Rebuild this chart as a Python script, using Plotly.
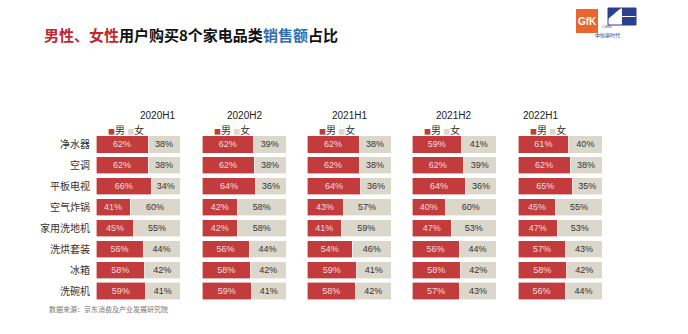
import plotly.graph_objects as go

categories = ["净水器", "空调", "平板电视", "空气炸锅", "家用洗地机", "洗烘套装", "冰箱", "洗碗机"]
periods = ["2020H1", "2020H2", "2021H1", "2021H2", "2022H1"]

male_2020H1 = [62, 62, 66, 41, 45, 56, 58, 59]
female_2020H1 = [38, 38, 34, 60, 55, 44, 42, 41]
male_2020H2 = [62, 62, 64, 42, 42, 56, 58, 59]
female_2020H2 = [39, 38, 36, 58, 58, 44, 42, 41]
male_2021H1 = [62, 62, 64, 43, 41, 54, 59, 58]
female_2021H1 = [38, 38, 36, 57, 59, 46, 41, 42]
male_2021H2 = [59, 62, 64, 40, 47, 56, 58, 57]
female_2021H2 = [41, 39, 36, 60, 53, 44, 42, 43]
male_2022H1 = [61, 62, 65, 45, 47, 57, 58, 56]
female_2022H1 = [40, 38, 35, 55, 53, 43, 42, 44]

male_series = [male_2020H1, male_2020H2, male_2021H1, male_2021H2, male_2022H1]
female_series = [female_2020H1, female_2020H2, female_2021H1, female_2021H2, female_2022H1]

W, H = 688, 334
MALE_C = "#c23b3d"
FEMALE_C = "#dbd7ca"
FONT = "Noto Sans CJK SC"

panel_left = [96, 202, 307, 412, 518]
panel_w = 84
y_top, y_bot = 134, 301.5

fig = go.Figure()
layout_axes = {}
for i, p in enumerate(periods):
    n = "" if i == 0 else str(i + 1)
    xa, ya = "x" + n, "y" + n
    fig.add_trace(go.Bar(
        y=categories, x=male_series[i], orientation="h", name="男",
        marker=dict(color=MALE_C, line=dict(color="white", width=0.6)),
        text=[f"{v}%" for v in male_series[i]], textposition="inside",
        insidetextanchor="middle", textangle=0,
        textfont=dict(color="#f6dede", size=9, family="Arial"),
        xaxis=xa, yaxis=ya, showlegend=False, hoverinfo="skip"))
    fig.add_trace(go.Bar(
        y=categories, x=female_series[i], orientation="h", name="女",
        marker=dict(color=FEMALE_C, line=dict(color="white", width=0.6)),
        text=[f"{v}%" for v in female_series[i]], textposition="inside",
        insidetextanchor="middle", textangle=0,
        textfont=dict(color="#333333", size=9, family="Arial"),
        xaxis=xa, yaxis=ya, showlegend=False, hoverinfo="skip"))
    x0 = panel_left[i] / W
    x1 = (panel_left[i] + panel_w) / W
    layout_axes["xaxis" + n] = dict(domain=[x0, x1], range=[0, 100], visible=False,
                                    fixedrange=True, anchor=ya)
    layout_axes["yaxis" + n] = dict(domain=[1 - y_bot / H, 1 - y_top / H],
                                    autorange="reversed", anchor=xa,
                                    showticklabels=(i == 0), showgrid=False,
                                    zeroline=False, showline=False, ticks="",
                                    ticklabelstandoff=5,
                                    tickfont=dict(size=10, color="#333333", family=FONT))
    cx = (panel_left[i] + panel_w / 2) / W
    fig.add_annotation(x=cx, y=1 - 115 / H, xref="paper", yref="paper",
                       text=p, showarrow=False,
                       font=dict(size=10, color="#222222", family="Arial"))
    fig.add_annotation(x=(panel_left[i] + 10) / W, y=1 - 129 / H, xref="paper", yref="paper",
                       xanchor="left",
                       text=(f"<span style='color:{MALE_C};font-size:7px'>■</span>男 "
                             f"<span style='color:{FEMALE_C};font-size:7px'>■</span>女"),
                       showarrow=False, font=dict(size=10, color="#333333", family=FONT))

fig.update_layout(**layout_axes)

# title
fig.add_annotation(
    x=42 / W, y=1 - 22 / H, xref="paper", yref="paper", xanchor="left",
    text=("<b><span style='color:#c0282d'>男性、女性</span>用户购买8个家电品类"
          "<span style='color:#2f6db5'>销售额</span>占比</b>"),
    showarrow=False, font=dict(size=15, color="#111111", family=FONT))

# source
fig.add_annotation(
    x=47 / W, y=1 - 316 / H, xref="paper", yref="paper", xanchor="left",
    text="数据来源：京东消费及产业发展研究院", showarrow=False,
    font=dict(size=7, color="#777777", family=FONT))

# logos
shapes = [
    dict(type="rect", xref="paper", yref="paper", x0=576 / W, x1=598 / W,
         y0=1 - 33 / H, y1=1 - 9 / H, fillcolor="#e8672c", line=dict(width=0), layer="below"),
    dict(type="rect", xref="paper", yref="paper", x0=608 / W, x1=636 / W,
         y0=1 - 25 / H, y1=1 - 8 / H, fillcolor="white", line=dict(color="#2c3f8e", width=1),
         layer="below"),
    dict(type="path", xref="paper", yref="paper",
         path=f"M {608/W},{1-8/H} L {621/W},{1-8/H} L {608/W},{1-19/H} Z",
         fillcolor="#2c3f8e", line=dict(width=0), layer="below"),
    dict(type="rect", xref="paper", yref="paper", x0=622 / W, x1=636 / W,
         y0=1 - 16 / H, y1=1 - 8 / H, fillcolor="#2c3f8e", line=dict(width=0), layer="below"),
    dict(type="rect", xref="paper", yref="paper", x0=622 / W, x1=636 / W,
         y0=1 - 25 / H, y1=1 - 17 / H, fillcolor="#2c3f8e", line=dict(width=0), layer="below"),
]
fig.add_annotation(x=587 / W, y=1 - 21 / H, xref="paper", yref="paper",
                   xanchor="center", yanchor="middle",
                   text="<b>GfK</b>", showarrow=False,
                   font=dict(size=10, color="#ffffff", family="Arial"))
fig.add_annotation(x=614 / W, y=1 - 22 / H, xref="paper", yref="paper",
                   text="CMM", showarrow=False,
                   font=dict(size=4, color="#555555", family="Arial"))
fig.add_annotation(x=622 / W, y=1 - 29 / H, xref="paper", yref="paper",
                   text="中怡康时代", showarrow=False,
                   font=dict(size=5, color="#2c3f8e", family=FONT))

fig.update_layout(
    width=W, height=H, margin=dict(l=0, r=0, t=0, b=0),
    barmode="stack", barnorm="percent", bargap=0.18,
    paper_bgcolor="white", plot_bgcolor="white",
    shapes=shapes, showlegend=False,
)

fig.write_html("out.html")
